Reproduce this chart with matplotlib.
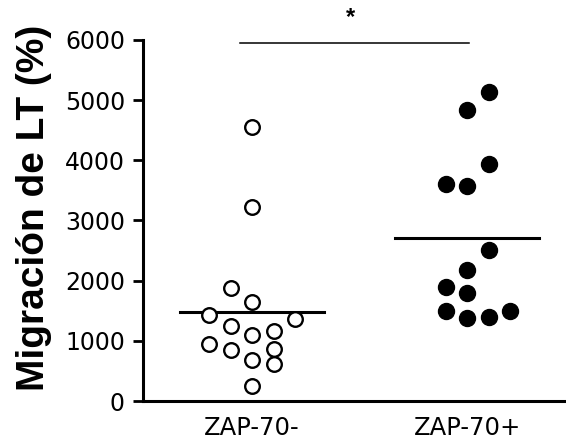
import matplotlib.pyplot as plt

plt.rcParams['font.family'] = ['Liberation Sans', 'DejaVu Sans']

# datos
grupos = ['ZAP-70-', 'ZAP-70+']
zap_neg = [4550, 3220, 1880, 1645, 1430, 1360, 1250, 1100, 1160, 950, 850, 865, 680, 615, 250]
zap_neg_col = [0, 0, -1, 0, -2, 2, -1, 0, 1, -2, -1, 1, 0, 1, 0]
zap_pos = [5130, 4830, 3940, 3600, 3570, 2510, 2180, 1900, 1790, 1500, 1380, 1400, 1500]
zap_pos_col = [1, 0, 1, -1, 0, 1, 0, -1, 0, -1, 0, 1, 2]
medias = [1480, 2710]

paso = 0.1

fig = plt.figure(figsize=(5.66, 4.43), dpi=100)
ax = fig.add_axes([0.2527, 0.0948, 0.7473, 0.815])

ax.plot([1 + c * paso for c in zap_neg_col], zap_neg, 'o', ms=10.5,
        mfc='white', mec='black', mew=1.7, clip_on=False, zorder=3)
ax.plot([2 + c * paso for c in zap_pos_col], zap_pos, 'o', ms=11.5,
        mfc='black', mec='black', clip_on=False, zorder=3)

for i, m in enumerate(medias):
    ax.plot([i + 1 - 0.335, i + 1 + 0.335], [m, m], color='black', lw=2.2, zorder=2)

# linea de significancia
ax.plot([0.944, 2.01], [5950, 5950], color='black', lw=1.1)
ax.text(1.46, 6180, '*', ha='center', va='bottom', fontsize=17, fontweight='bold')

ax.set_xlim(0.493, 2.46)
ax.set_ylim(0, 6000)
ax.set_yticks(range(0, 6001, 1000))
ax.set_xticks([1, 2])
ax.set_xticklabels(grupos, fontsize=17.5, family='DejaVu Sans')
for t in ax.get_yticklabels():
    t.set_family('DejaVu Sans')
    t.set_fontsize(17)
ax.tick_params(axis='x', length=0, pad=11)
ax.tick_params(axis='y', length=7, width=2, pad=6)
ax.set_ylabel('Migración de LT (%)', fontsize=28, fontweight='bold')
ax.yaxis.set_label_coords(-0.215, 0.535)

for s in ['top', 'right']:
    ax.spines[s].set_visible(False)
for s in ['left', 'bottom']:
    ax.spines[s].set_linewidth(2.2)

fig.savefig('out.png', dpi=100)
